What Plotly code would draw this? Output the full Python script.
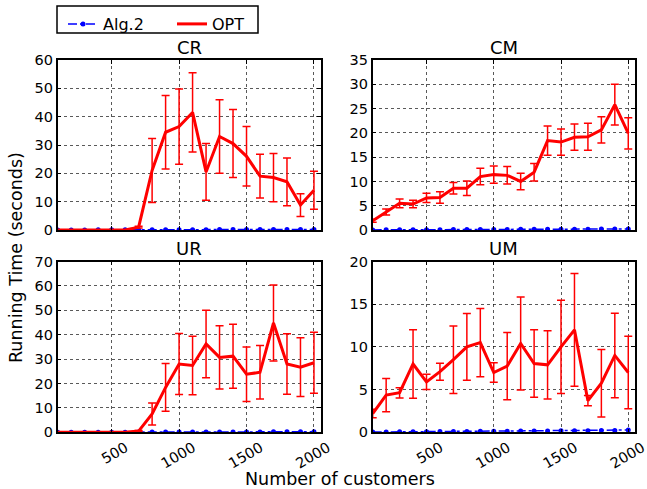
import plotly.graph_objects as go

W, H = 647, 489
x_vals = [100, 200, 300, 400, 500, 600, 700, 800, 900, 1000,
          1100, 1200, 1300, 1400, 1500, 1600, 1700, 1800, 1900, 2000]

# CR
cr_opt = [0, 0, 0, 0, 0, 0, 1.0, 21.0, 34.5, 36.5, 41.5, 20.5, 33.0, 30.5, 26.0, 19.0, 18.5, 17.0, 8.8, 14.0]
cr_err = [0, 0, 0, 0, 0, 0, 0.3, 11.3, 13.0, 13.3, 14.0, 10.0, 13.0, 12.0, 10.5, 7.7, 8.5, 8.4, 4.0, 6.7]
cr_alg = [0.02, 0.03, 0.04, 0.05, 0.06, 0.07, 0.08, 0.09, 0.1, 0.11, 0.12, 0.13, 0.14, 0.15, 0.16, 0.17, 0.18, 0.19, 0.2, 0.22]
# CM
cm_opt = [1.9, 3.7, 5.5, 5.35, 6.6, 6.7, 8.6, 8.6, 11.0, 11.4, 11.25, 10.0, 11.9, 18.4, 18.1, 19.1, 19.2, 20.6, 25.8, 19.9]
cm_err = [0.3, 0.6, 0.9, 0.75, 0.95, 1.2, 1.2, 1.5, 1.7, 1.8, 1.8, 1.7, 1.8, 3.0, 2.7, 2.7, 2.8, 2.7, 4.2, 3.2]
cm_alg = [0.02, 0.03, 0.04, 0.05, 0.06, 0.07, 0.08, 0.09, 0.1, 0.11, 0.12, 0.13, 0.14, 0.15, 0.16, 0.17, 0.18, 0.19, 0.2, 0.22]
# UR
ur_opt = [0, 0, 0, 0, 0, 0, 0.5, 7.5, 18.4, 28.0, 27.4, 36.2, 30.7, 31.2, 23.8, 24.6, 44.8, 28.0, 26.7, 28.5]
ur_err = [0, 0, 0, 0, 0, 0, 0.2, 4.5, 9.8, 12.5, 12.0, 13.8, 13.0, 13.1, 11.2, 11.0, 15.6, 12.4, 12.0, 12.5]
ur_alg = [0.02, 0.03, 0.04, 0.05, 0.06, 0.07, 0.08, 0.09, 0.1, 0.11, 0.12, 0.13, 0.14, 0.15, 0.16, 0.17, 0.18, 0.19, 0.2, 0.22]
# UM
um_opt = [2.2, 4.36, 4.63, 8.0, 5.9, 7.1, 8.5, 10.0, 10.5, 7.0, 7.75, 10.4, 8.05, 7.9, 10.0, 12.0, 3.7, 5.75, 9.0, 7.0]
um_err = [0.5, 1.95, 0.6, 4.0, 0.9, 1.0, 3.95, 3.9, 4.0, 1.15, 3.95, 5.45, 3.95, 4.0, 5.45, 6.6, 0.6, 3.95, 4.95, 4.25]
um_alg = [0.03, 0.04, 0.05, 0.06, 0.07, 0.08, 0.09, 0.1, 0.11, 0.12, 0.13, 0.14, 0.15, 0.16, 0.17, 0.18, 0.19, 0.2, 0.22, 0.27]

titles = ["CR", "CM", "UR", "UM"]
opts = [cr_opt, cm_opt, ur_opt, um_opt]
errs = [cr_err, cm_err, ur_err, um_err]
algs = [cr_alg, cm_alg, ur_alg, um_alg]
y_ranges = [[0, 60], [0, 35], [0, 70], [0, 20]]
y_dticks = [10, 5, 10, 5]
x_ticks = [500, 1000, 1500, 2000]

FONT = "DejaVu Sans"

# pixel boxes: (left, right, top, bottom)
boxes = [(57.7, 320.7, 60, 230), (372.7, 635, 60, 230),
         (57.7, 320.7, 261.5, 432.3), (372.7, 635, 261.5, 432.3)]

fig = go.Figure()
layout = dict(width=W, height=H, margin=dict(l=0, r=0, t=0, b=0, autoexpand=False),
              plot_bgcolor="white", paper_bgcolor="white",
              font=dict(family=FONT, size=14.5, color="black"))
annotations = []
for i in range(4):
    xa = "x" if i == 0 else f"x{i+1}"
    ya = "y" if i == 0 else f"y{i+1}"
    fig.add_trace(go.Scatter(
        x=x_vals, y=algs[i], mode="lines+markers", name="Alg.2",
        line=dict(color="blue", width=1.5, dash="dashdot"),
        marker=dict(color="blue", size=5),
        legendgroup="alg", showlegend=(i == 0), xaxis=xa, yaxis=ya))
    fig.add_trace(go.Scatter(
        x=x_vals, y=opts[i], mode="lines", name="OPT",
        line=dict(color="red", width=3),
        error_y=dict(type="data", array=errs[i], color="red", thickness=1.5, width=4),
        legendgroup="opt", showlegend=(i == 0), xaxis=xa, yaxis=ya))
    l, r, t, b = boxes[i]
    common = dict(showline=True, linecolor="black", linewidth=1.5, mirror="ticks",
                  ticks="inside", ticklen=4, tickcolor="black",
                  showgrid=True, gridcolor="rgba(0,0,0,0.65)", griddash="dot", gridwidth=1,
                  zeroline=False, tickfont=dict(family=FONT, size=14.5))
    xkey = "xaxis" if i == 0 else f"xaxis{i+1}"
    ykey = "yaxis" if i == 0 else f"yaxis{i+1}"
    layout[xkey] = dict(common, domain=[l / W, r / W], range=[100, 2050],
                        tickvals=x_ticks, anchor=ya, automargin=False,
                        showticklabels=(i >= 2), tickangle=-30,
                        ticklabelshift=14, ticklabeloverflow="allow")
    layout[ykey] = dict(common, domain=[1 - b / H, 1 - t / H], range=y_ranges[i],
                        dtick=y_dticks[i], tick0=0, anchor=xa, automargin=False)
    annotations.append(dict(text=titles[i], x=(l + r) / 2 / W, y=1 - (t - 12.5) / H,
                            xref="paper", yref="paper", showarrow=False,
                            xanchor="center", yanchor="middle",
                            font=dict(family=FONT, size=18)))

annotations.append(dict(text="Running Time (seconds)", x=16 / W, y=1 - 258 / H,
                        xref="paper", yref="paper", showarrow=False, textangle=-90,
                        xanchor="center", yanchor="middle",
                        font=dict(family=FONT, size=17.5)))
annotations.append(dict(text="Number of customers", x=340 / W, y=1 - 479 / H,
                        xref="paper", yref="paper", showarrow=False,
                        xanchor="center", yanchor="middle",
                        font=dict(family=FONT, size=17.5)))
layout["annotations"] = annotations
layout["shapes"] = [dict(type="rect", xref="paper", yref="paper",
                         x0=57 / W, x1=258 / W, y0=1 - 33 / H, y1=1 - 6 / H,
                         line=dict(color="black", width=1.5), fillcolor="rgba(0,0,0,0)")]
layout["legend"] = dict(orientation="h", x=63 / W, y=1 - 7 / H, xanchor="left", yanchor="top",
                        borderwidth=0, bgcolor="rgba(0,0,0,0)",
                        font=dict(family=FONT, size=16), entrywidth=64, entrywidthmode="pixels",
                        itemwidth=30)
fig.update_layout(**layout)
fig.write_html("out.html")
